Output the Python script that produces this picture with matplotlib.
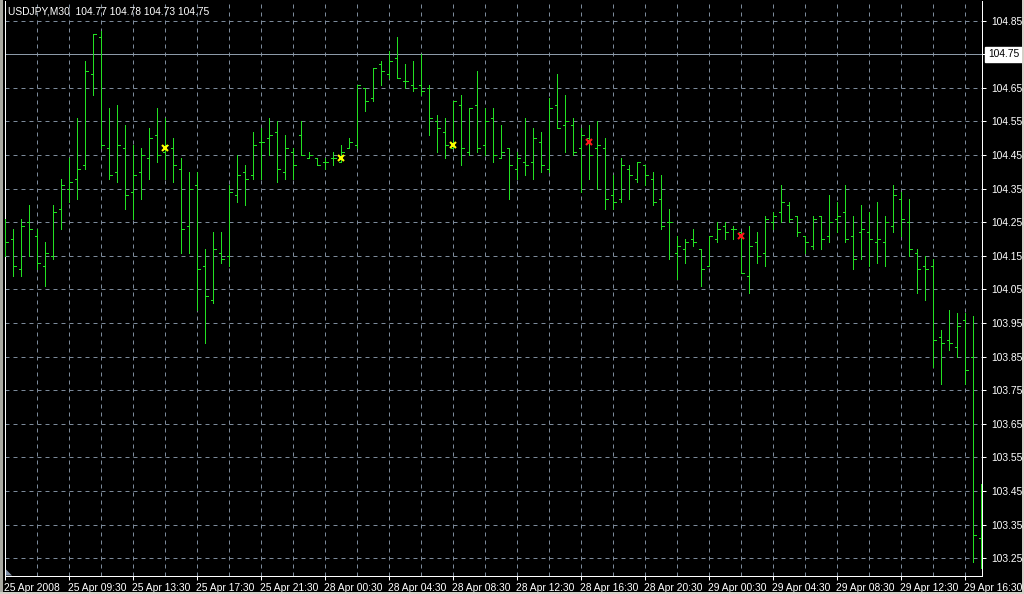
import matplotlib
matplotlib.use("Agg")
import matplotlib.pyplot as plt
from matplotlib.patches import Polygon, Rectangle
import matplotlib.transforms as mtransforms
import numpy as np

# ---------------- data ----------------
opens = [104.17, 104.20, 104.11, 104.25, 104.21, 104.12, 104.15, 104.29, 104.35, 104.38,
         104.42, 104.69, 104.80, 104.47, 104.40, 104.47, 104.34, 104.40, 104.44, 104.51,
         104.46, 104.47, 104.41, 104.24, 104.36, 104.12, 104.02, 104.16, 104.15, 104.33,
         104.40, 104.39, 104.49, 104.50, 104.52, 104.40, 104.46, 104.51, 104.44, 104.44,
         104.43, 104.44, 104.43, 104.47, 104.48, 104.65, 104.62, 104.72, 104.69, 104.74,
         104.67, 104.66, 104.66, 104.65, 104.55, 104.52, 104.47, 104.60, 104.46, 104.60,
         104.48, 104.56, 104.44, 104.47, 104.41, 104.43, 104.43, 104.49, 104.41, 104.60,
         104.54, 104.54, 104.47, 104.50, 104.47, 104.47, 104.33, 104.32, 104.41, 104.38,
         104.42, 104.38, 104.32, 104.25, 104.16, 104.17, 104.20, 104.17, 104.12, 104.20,
         104.24, 104.23, 104.22, 104.09, 104.19, 104.16, 104.25, 104.28, 104.30, 104.27,
         104.21, 104.18, 104.27, 104.21, 104.26, 104.28, 104.21, 104.22, 104.22, 104.19,
         104.19, 104.24, 104.32, 104.25, 104.16, 104.12, 104.12, 103.91, 103.90, 103.88,
         103.96, 103.85, 103.31]
highs = [104.26, 104.23, 104.26, 104.30, 104.23, 104.19, 104.30, 104.38, 104.44, 104.56,
         104.73, 104.81, 104.82, 104.59, 104.60, 104.54, 104.48, 104.47, 104.53, 104.59,
         104.56, 104.50, 104.44, 104.40, 104.40, 104.17, 104.22, 104.22, 104.36, 104.45,
         104.42, 104.52, 104.53, 104.56, 104.55, 104.51, 104.47, 104.55, 104.46, 104.44,
         104.44, 104.46, 104.48, 104.50, 104.66, 104.65, 104.71, 104.73, 104.76, 104.80,
         104.72, 104.73, 104.75, 104.66, 104.57, 104.56, 104.61, 104.63, 104.59, 104.70,
         104.59, 104.59, 104.54, 104.47, 104.46, 104.56, 104.53, 104.52, 104.62, 104.69,
         104.63, 104.56, 104.53, 104.54, 104.55, 104.50, 104.39, 104.44, 104.42, 104.43,
         104.42, 104.40, 104.39, 104.29, 104.21, 104.20, 104.23, 104.17, 104.21, 104.25,
         104.25, 104.24, 104.22, 104.24, 104.22, 104.27, 104.28, 104.36, 104.31, 104.27,
         104.21, 104.27, 104.27, 104.33, 104.31, 104.36, 104.27, 104.30, 104.28, 104.31,
         104.27, 104.36, 104.34, 104.32, 104.17, 104.15, 104.14, 103.93, 103.99, 103.98,
         103.98, 103.97, 103.47]
lows = [104.15, 104.09, 104.09, 104.15, 104.11, 104.06, 104.14, 104.23, 104.31, 104.32,
        104.41, 104.63, 104.47, 104.38, 104.37, 104.29, 104.26, 104.32, 104.38, 104.43,
        104.38, 104.37, 104.16, 104.16, 103.99, 103.89, 104.01, 104.13, 104.12, 104.31,
        104.30, 104.38, 104.38, 104.45, 104.37, 104.38, 104.38, 104.45, 104.44, 104.42,
        104.41, 104.42, 104.43, 104.47, 104.47, 104.58, 104.61, 104.66, 104.68, 104.68,
        104.65, 104.64, 104.63, 104.51, 104.46, 104.44, 104.47, 104.42, 104.45, 104.46,
        104.45, 104.43, 104.44, 104.32, 104.38, 104.39, 104.38, 104.40, 104.40, 104.53,
        104.46, 104.45, 104.34, 104.38, 104.35, 104.29, 104.29, 104.31, 104.32, 104.37,
        104.36, 104.30, 104.23, 104.14, 104.08, 104.13, 104.18, 104.06, 104.12, 104.19,
        104.20, 104.20, 104.10, 104.04, 104.13, 104.12, 104.23, 104.25, 104.25, 104.21,
        104.16, 104.17, 104.17, 104.19, 104.22, 104.19, 104.11, 104.14, 104.12, 104.13,
        104.12, 104.22, 104.21, 104.15, 104.04, 104.02, 103.82, 103.77, 103.87, 103.85,
        103.77, 103.24, 103.22]
closes = [104.19, 104.12, 104.24, 104.23, 104.13, 104.16, 104.28, 104.36, 104.37, 104.41,
          104.70, 104.81, 104.48, 104.39, 104.48, 104.33, 104.39, 104.45, 104.50, 104.45,
          104.48, 104.42, 104.23, 104.35, 104.11, 104.03, 104.17, 104.14, 104.34, 104.39,
          104.38, 104.48, 104.49, 104.51, 104.41, 104.47, 104.42, 104.45, 104.45, 104.42,
          104.43, 104.44, 104.46, 104.49, 104.66, 104.61, 104.71, 104.70, 104.73, 104.68,
          104.67, 104.65, 104.64, 104.56, 104.53, 104.48, 104.61, 104.47, 104.59, 104.47,
          104.55, 104.45, 104.46, 104.42, 104.44, 104.42, 104.50, 104.42, 104.59, 104.53,
          104.55, 104.46, 104.51, 104.45, 104.48, 104.32, 104.31, 104.42, 104.39, 104.43,
          104.39, 104.31, 104.24, 104.25, 104.18, 104.19, 104.19, 104.11, 104.21, 104.23,
          104.22, 104.23, 104.10, 104.18, 104.15, 104.26, 104.27, 104.31, 104.26, 104.22,
          104.19, 104.26, 104.20, 104.25, 104.27, 104.20, 104.14, 104.23, 104.20, 104.20,
          104.25, 104.33, 104.26, 104.17, 104.11, 104.11, 103.90, 103.89, 103.89, 103.94,
          103.81, 103.32, 103.31]

marker_yellow_idx = [20, 42, 56]
marker_yellow_price = [104.47, 104.44, 104.48]
marker_red_idx = [73, 92]
marker_red_price = [104.49, 104.21]

bid_price = 104.75
price_ticks = [104.85, 104.75, 104.65, 104.55, 104.45, 104.35, 104.25, 104.15, 104.05,
               103.95, 103.85, 103.75, 103.65, 103.55, 103.45, 103.35, 103.25]
time_labels = ["25 Apr 2008", "25 Apr 09:30", "25 Apr 13:30", "25 Apr 17:30", "25 Apr 21:30",
               "28 Apr 00:30", "28 Apr 04:30", "28 Apr 08:30", "28 Apr 12:30", "28 Apr 16:30",
               "28 Apr 20:30", "29 Apr 00:30", "29 Apr 04:30", "29 Apr 08:30", "29 Apr 12:30",
               "29 Apr 16:30"]
title_text = "USDJPY,M30  104.77 104.78 104.73 104.75"

# ---------------- figure ----------------
W, H = 1024, 594
fig = plt.figure(figsize=(W / 100, H / 100), dpi=100, facecolor="black")
L, R, B, T = 5, 982, 575.5, 1
ax = fig.add_axes([L / W, (H - B) / H, (R - L) / W, (B - T) / H])
ax.set_facecolor("black")

FONT = "Liberation Sans"
FS = 7.4
GRID = "#7c8a9a"
BAR = "#22e022"
PX = 0.72  # one pixel in points
n = len(opens)
x = np.arange(n)
tick_w = 0.3

ax.vlines(x, lows, highs, color=BAR, lw=PX, antialiased=False, zorder=3)
ax.hlines(opens, x - tick_w, x, color=BAR, lw=PX, antialiased=False, zorder=3)
ax.hlines(closes, x, x + tick_w, color=BAR, lw=PX, antialiased=False, zorder=3)

ax.plot(marker_yellow_idx, marker_yellow_price, ls="none", marker="x", ms=4, mew=1.5,
        color="#ffff00", zorder=4)
ax.plot(marker_red_idx, marker_red_price, ls="none", marker="x", ms=4, mew=1.5,
        color="#ff1a1a", zorder=4)

px_per_bar = 8.0
x0 = (L - 5.3) / px_per_bar
x1 = x0 + (R - L) / px_per_bar
ax.set_xlim(x0, x1)
px_per_price = 336.0
y_top = 104.85 + (20.7 - T) / px_per_price
y_bot = 104.85 - (B - 20.7) / px_per_price
ax.set_ylim(y_bot, y_top)

# grid
for gx in range(0, n, 4):
    ax.axvline(gx, color=GRID, lw=PX, ls=(0, (4, 4)), zorder=1)
for gy in price_ticks:
    ax.axhline(gy, color=GRID, lw=PX, ls=(0, (4, 4)), zorder=1)

# bid line
ax.axhline(bid_price, color="#8c9aa8", lw=PX, zorder=2)

# spines
ax.spines["top"].set_visible(False)
for s in ["left", "right", "bottom"]:
    ax.spines[s].set_color("white")
    ax.spines[s].set_linewidth(PX)

# y axis on right
ax.yaxis.tick_right()
ax.set_yticks(price_ticks)
ax.set_yticklabels(["" if abs(p - bid_price) < 1e-6 else f"{p:.2f}" for p in price_ticks],
                   fontfamily=FONT, fontsize=FS, color="white")
ax.tick_params(axis="y", which="both", direction="out", length=3, width=PX,
               color="white", pad=3.5, left=False, right=True)

bid_txt = ax.text(1.0, bid_price, f"{bid_price:.2f}",
                  transform=ax.get_yaxis_transform() + mtransforms.ScaledTranslation(6 / 100, 0, fig.dpi_scale_trans),
                  ha="left", va="center", fontfamily=FONT, fontsize=FS, color="black",
                  bbox=dict(boxstyle="square,pad=0.25", fc="white", ec="white"),
                  zorder=5, clip_on=False)

# x axis
ax.set_xticks(np.arange(0, n, 8))
ax.set_xticklabels(time_labels, fontfamily=FONT, fontsize=FS, color="white", ha="left")
ax.tick_params(axis="x", direction="out", length=3, width=PX, color="white", pad=2.5)
for lab in ax.get_xticklabels():
    lab.set_transform(lab.get_transform() + mtransforms.ScaledTranslation(-1 / 100, 0, fig.dpi_scale_trans))

# title text
fig.text(8 / W, 1 - 11 / H, title_text, ha="left", va="center", fontfamily=FONT,
         fontsize=FS, color="white")

# small shift marker triangle at bottom-left
tri = Polygon([[(L + 1) / W, (H - B) / H], [(L + 1) / W, (H - B + 6) / H], [(L + 7) / W, (H - B) / H]],
              closed=True, transform=fig.transFigure, fc="#8090a8", ec="none", zorder=6)
fig.patches.append(tri)

# window frame strips
fig.patches.append(Rectangle((0, 0), 3 / W, 1, transform=fig.transFigure, fc="#a8a8a0", ec="none"))
fig.patches.append(Rectangle((0, 0), 1, 2 / H, transform=fig.transFigure, fc="#d4d0c8", ec="none"))
fig.patches.append(Rectangle((1 - 2 / W, 0), 2 / W, 1, transform=fig.transFigure, fc="#d4d0c8", ec="none"))

fig.savefig("out.png", dpi=100, facecolor="black")
